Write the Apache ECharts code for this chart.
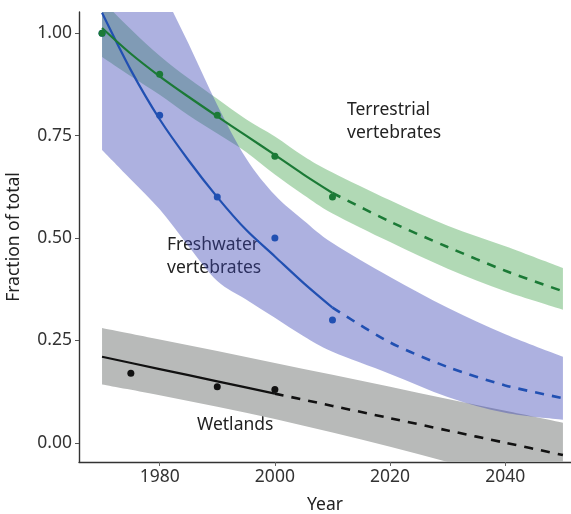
<!DOCTYPE html>
<html>
<head>
<meta charset="utf-8">
<script src="https://cdn.jsdelivr.net/npm/echarts@6/dist/echarts.min.js"></script>
<style>
  html, body { margin: 0; padding: 0; background: #fff; }
  #chart { width: 571px; height: 514px; }
</style>
</head>
<body>
<div id="chart"></div>
<script>
// Trend years for the two vertebrate fits (5-year steps to 2010, then 10-year steps)
const trendYears = [1970, 1975, 1980, 1985, 1990, 1995, 2000, 2005, 2010, 2020, 2030, 2040, 2050];

// Terrestrial vertebrates: fitted trend and confidence band
const terrestrialFit   = [1.013, 0.95, 0.895, 0.845, 0.797, 0.75, 0.703, 0.655, 0.61, 0.54, 0.478, 0.42, 0.37];
const terrestrialUpper = [1.08, 1.01, 0.945, 0.89, 0.84, 0.79, 0.748, 0.70, 0.66, 0.592, 0.53, 0.48, 0.427];
const terrestrialLower = [0.942, 0.895, 0.85, 0.80, 0.755, 0.71, 0.655, 0.605, 0.56, 0.49, 0.425, 0.37, 0.325];

// Freshwater vertebrates: fitted trend and confidence band
const freshwaterFit   = [1.05, 0.91, 0.79, 0.69, 0.60, 0.52, 0.455, 0.39, 0.33, 0.245, 0.185, 0.14, 0.109];
const freshwaterUpper = [1.45, 1.28, 1.12, 0.975, 0.825, 0.695, 0.605, 0.543, 0.488, 0.405, 0.33, 0.265, 0.21];
const freshwaterLower = [0.715, 0.643, 0.57, 0.48, 0.395, 0.35, 0.305, 0.26, 0.222, 0.168, 0.112, 0.073, 0.056];

// Wetlands: linear trend and band
const wetlandYears = [1970, 1980, 1990, 2000, 2010, 2020, 2030, 2040, 2050];
const wetlandFit   = [0.21, 0.18, 0.15, 0.12, 0.09, 0.06, 0.03, 0.0, -0.03];
const wetlandUpper = [0.28, 0.252, 0.224, 0.195, 0.166, 0.137, 0.107, 0.078, 0.049];
const wetlandLower = [0.142, 0.116, 0.088, 0.058, 0.025, -0.01, -0.047, -0.085, -0.124];

// Observed values
const terrestrialObsYears = [1970, 1980, 1990, 2000, 2010];
const terrestrialObs      = [1.00, 0.90, 0.80, 0.70, 0.60];
const freshwaterObsYears  = [1970, 1980, 1990, 2000, 2010];
const freshwaterObs       = [1.00, 0.80, 0.60, 0.50, 0.30];
const wetlandObsYears     = [1975, 1990, 2000];
const wetlandObs          = [0.17, 0.137, 0.13];

// Tick values
const xTicks = [1980, 2000, 2020, 2040];
const yTicks = [0, 0.25, 0.5, 0.75, 1.0];

// Last year of observed data: solid before, dashed projection after
const vertebrateObsEnd = 2010;
const wetlandObsEnd = 2000;

const FONT = 'Noto Sans';
const GREEN = '#1b7a36';
const BLUE = '#2150b2';
const BLACK = '#111111';

const pairs = (xs, ys) => xs.map((x, i) => [x, ys[i]]);
const part = (xs, ys, test) => xs.map((x, i) => [x, ys[i]]).filter(p => test(p[0]));

// Cubic (Catmull-Rom style) path segments through already-projected pixel points
function curveThrough(pts, tension) {
  let d = '';
  for (let i = 0; i < pts.length - 1; i++) {
    const p0 = pts[i - 1] || pts[i];
    const p1 = pts[i];
    const p2 = pts[i + 1];
    const p3 = pts[i + 2] || p2;
    const c1x = p1[0] + (p2[0] - p0[0]) * tension / 6;
    const c1y = p1[1] + (p2[1] - p0[1]) * tension / 6;
    const c2x = p2[0] - (p3[0] - p1[0]) * tension / 6;
    const c2y = p2[1] - (p3[1] - p1[1]) * tension / 6;
    d += ' C' + c1x + ' ' + c1y + ' ' + c2x + ' ' + c2y + ' ' + p2[0] + ' ' + p2[1];
  }
  return d;
}

// Confidence band: filled region between an upper and a lower curve
function band(xs, hi, lo, color) {
  return {
    type: 'custom',
    coordinateSystem: 'cartesian2d',
    clip: true,
    silent: true,
    z: 1,
    data: [[xs[0], lo[0]]],
    renderItem: function (params, api) {
      const up = xs.map((x, i) => api.coord([x, hi[i]]));
      const dn = xs.map((x, i) => api.coord([x, lo[i]])).reverse();
      let d = 'M' + up[0][0] + ' ' + up[0][1] + curveThrough(up, 1);
      d += ' L' + dn[0][0] + ' ' + dn[0][1] + curveThrough(dn, 1) + ' Z';
      return {
        type: 'path',
        shape: { pathData: d },
        style: { fill: color, stroke: null }
      };
    }
  };
}

function trend(xs, ys, end, color) {
  return [
    {
      type: 'line', data: part(xs, ys, x => x <= end), smooth: 0.3,
      symbol: 'none', lineStyle: { color: color, width: 2.2 }, z: 3
    },
    {
      type: 'line', data: part(xs, ys, x => x >= end), smooth: 0.3,
      symbol: 'none', lineStyle: { color: color, width: 2.6, type: [9, 8] }, z: 3
    }
  ];
}

function points(xs, ys, color) {
  return {
    type: 'scatter', data: pairs(xs, ys), symbolSize: 7,
    itemStyle: { color: color, opacity: 1 }, z: 4
  };
}

const chart = echarts.init(document.getElementById('chart'), null, { renderer: 'canvas' });

chart.setOption({
  animation: false,
  backgroundColor: '#ffffff',
  grid: { left: 79, right: 0, top: 12, bottom: 52, containLabel: false, outerBoundsMode: 'none' },
  xAxis: {
    type: 'value', min: 1966, max: 2051.4,
    name: 'Year', nameLocation: 'middle', nameGap: 34,
    nameTextStyle: { fontFamily: FONT, fontSize: 17.5, color: '#222' },
    axisLine: { onZero: false, lineStyle: { color: '#333', width: 1.4 } },
    axisTick: { show: true, length: 4, customValues: xTicks, lineStyle: { color: '#666' } },
    axisLabel: {
      customValues: xTicks, fontFamily: FONT, fontSize: 17.5, color: '#333', margin: 6,
      formatter: v => String(v)
    },
    splitLine: { show: false }
  },
  yAxis: {
    type: 'value', min: -0.047, max: 1.052,
    name: 'Fraction of total', nameLocation: 'middle', nameGap: 56,
    nameTextStyle: { fontFamily: FONT, fontSize: 17.5, color: '#222' },
    axisLine: { show: true, onZero: false, lineStyle: { color: '#333', width: 1.4 } },
    axisTick: { show: true, length: 4, customValues: yTicks, lineStyle: { color: '#555' } },
    axisLabel: {
      customValues: yTicks, fontFamily: FONT, fontSize: 17.5, color: '#333', margin: 7,
      formatter: v => v.toFixed(2)
    },
    splitLine: { show: false }
  },
  series: [
    band(wetlandYears, wetlandUpper, wetlandLower, '#b8bab9'),
    band(trendYears, terrestrialUpper, terrestrialLower, 'rgba(60,160,70,0.40)'),
    band(trendYears, freshwaterUpper, freshwaterLower, 'rgba(60,70,180,0.42)'),
    ...trend(wetlandYears, wetlandFit, wetlandObsEnd, BLACK),
    ...trend(trendYears, freshwaterFit, vertebrateObsEnd, BLUE),
    ...trend(trendYears, terrestrialFit, vertebrateObsEnd, GREEN),
    points(wetlandObsYears, wetlandObs, BLACK),
    points(freshwaterObsYears, freshwaterObs, BLUE),
    points(terrestrialObsYears, terrestrialObs, GREEN)
  ],
  graphic: [
    {
      type: 'text', left: 347, top: 99,
      style: {
        text: 'Terrestrial\nvertebrates', fontFamily: FONT, fontSize: 17.5,
        fill: '#222', align: 'center', lineHeight: 23
      }
    },
    {
      type: 'text', left: 167, top: 234,
      style: {
        text: 'Freshwater\nvertebrates', fontFamily: FONT, fontSize: 17.5,
        fill: '#222', align: 'center', lineHeight: 23
      }
    },
    {
      type: 'text', left: 197, top: 414,
      style: {
        text: 'Wetlands', fontFamily: FONT, fontSize: 17.5,
        fill: '#222', align: 'center', lineHeight: 23
      }
    }
  ]
});
</script>
</body>
</html>
